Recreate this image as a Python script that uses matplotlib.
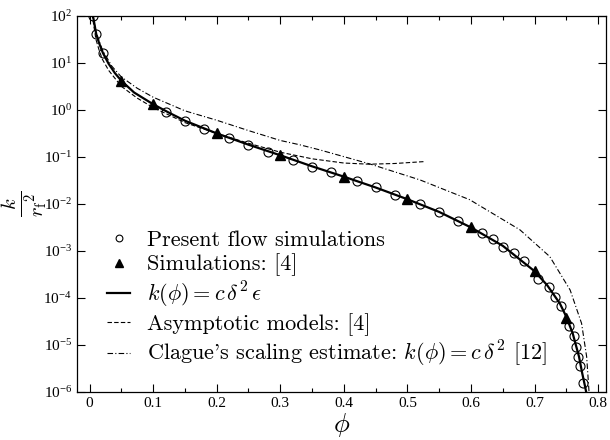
import numpy as np
import matplotlib
matplotlib.use("Agg")
import matplotlib.pyplot as plt
from matplotlib.ticker import MultipleLocator, LogLocator, NullLocator

plt.rcParams['font.family'] = ['Liberation Serif', 'DejaVu Serif']
plt.rcParams['mathtext.fontset'] = 'cm'

# present flow simulations (open circles)
phi_sim = [0.006, 0.0105, 0.021, 0.12, 0.15, 0.18, 0.22, 0.25, 0.28, 0.32, 0.35, 0.38,
           0.42, 0.45, 0.48, 0.52, 0.55, 0.58, 0.618, 0.635, 0.651, 0.667, 0.683,
           0.706, 0.722, 0.732, 0.742, 0.755, 0.762, 0.765, 0.769, 0.772, 0.777]
logk_sim = [2.0, 1.61, 1.21, -0.04, -0.23, -0.40, -0.60, -0.74, -0.89, -1.07, -1.21, -1.33,
            -1.52, -1.65, -1.81, -2.00, -2.18, -2.36, -2.62, -2.75, -2.91, -3.05, -3.21,
            -3.60, -3.77, -3.97, -4.17, -4.60, -4.81, -5.05, -5.25, -5.44, -5.80]

# simulations from [4] (filled triangles)
phi_ref = [0.05, 0.1, 0.2, 0.3, 0.4, 0.5, 0.6, 0.7, 0.75]
logk_ref = [0.62, 0.12, -0.50, -0.965, -1.42, -1.90, -2.50, -3.43, -4.43]

# k(phi) = c delta^2 eps (solid)
phi_fit = [0.004, 0.006, 0.0105, 0.015, 0.021, 0.03, 0.04, 0.05, 0.07, 0.1, 0.125, 0.15,
           0.2, 0.25, 0.3, 0.35, 0.4, 0.45, 0.5, 0.55, 0.6, 0.65, 0.7, 0.72, 0.74,
           0.75, 0.76, 0.77, 0.775, 0.779, 0.782]
logk_fit = [2.05, 1.95, 1.61, 1.42, 1.21, 0.98, 0.78, 0.62, 0.37, 0.12, -0.06, -0.23,
            -0.50, -0.74, -0.965, -1.2, -1.42, -1.65, -1.90, -2.17, -2.50, -2.89, -3.43,
            -3.73, -4.12, -4.40, -4.75, -5.25, -5.6, -5.85, -6.05]

# asymptotic models from [4] (dashed)
phi_asy = [0.004, 0.006, 0.01, 0.015, 0.02, 0.03, 0.05, 0.075, 0.1, 0.15, 0.2, 0.25,
           0.3, 0.35, 0.4, 0.44, 0.48, 0.526]
logk_asy = [2.05, 1.85, 1.50, 1.27, 1.08, 0.84, 0.50, 0.25, 0.05, -0.27, -0.50, -0.71,
            -0.90, -1.04, -1.13, -1.155, -1.14, -1.10]

# Clague's scaling estimate (dash-dot)
phi_cla = [0.004, 0.006, 0.01, 0.02, 0.035, 0.05, 0.075, 0.1, 0.15, 0.2, 0.25, 0.3, 0.33,
           0.362, 0.441, 0.52, 0.598, 0.677, 0.724, 0.756, 0.774, 0.782, 0.786]
logk_cla = [2.05, 1.93, 1.66, 1.28, 0.93, 0.70, 0.46, 0.27, -0.02, -0.22, -0.44, -0.65, -0.74,
            -0.85, -1.15, -1.49, -1.91, -2.55, -3.12, -3.83, -4.54, -5.25, -6.05]

fig = plt.figure(figsize=(6.1, 4.4), dpi=100)
ax = fig.add_axes([0.126, 0.109, 0.867, 0.855])

ax.plot(phi_fit, 10.0 ** np.array(logk_fit), color='black', lw=1.6,
        label=r'$k(\phi) = c\,\delta^2\,\epsilon$', zorder=3)
ax.plot(phi_asy, 10.0 ** np.array(logk_asy), color='black', lw=0.8, ls=(0, (4, 2)),
        label='Asymptotic models: [4]')
ax.plot(phi_cla, 10.0 ** np.array(logk_cla), color='black', lw=0.8, ls=(0, (5, 2, 1, 2)),
        label=r"Clague's scaling estimate: $k(\phi) = c\,\delta^2$ [12]")
ax.plot(phi_sim, 10.0 ** np.array(logk_sim), ls='none', marker='o', ms=6.5, mfc='none',
        mec='black', mew=0.8, label='Present flow simulations', zorder=4)
ax.plot(phi_ref, 10.0 ** np.array(logk_ref), ls='none', marker='^', ms=7, color='black',
        label='Simulations: [4]', zorder=5)

ax.set_yscale('log')
ax.set_xlim(-0.02, 0.812)
ax.set_ylim(1e-6, 1e2)
ax.xaxis.set_minor_locator(MultipleLocator(0.05))
ax.yaxis.set_major_locator(LogLocator(base=10, numticks=20))
ax.yaxis.set_minor_locator(NullLocator())
ax.set_xticks([0, 0.1, 0.2, 0.3, 0.4, 0.5, 0.6, 0.7, 0.8])
ax.set_xticklabels(['0', '0.1', '0.2', '0.3', '0.4', '0.5', '0.6', '0.7', '0.8'])
ax.tick_params(which='both', direction='in', top=True, right=True, labelsize=11, width=0.8)
ax.tick_params(which='major', length=6)
ax.tick_params(which='minor', length=3)
for s in ax.spines.values():
    s.set_linewidth(0.9)

ax.set_xlabel(r'$\phi$', fontsize=19)
ax.xaxis.set_label_coords(0.5, -0.05, transform=ax.transAxes)
ax.xaxis.label.set_va('top')
ax.set_ylabel(r'$\frac{k}{{r_{\mathrm{f}}}^{2}}$', fontsize=21)
ax.yaxis.set_label_coords(-0.052, 0.5, transform=ax.transAxes)

handles, labels = ax.get_legend_handles_labels()
order = [3, 4, 0, 1, 2]
ax.legend([handles[i] for i in order], [labels[i] for i in order], loc='lower left',
          bbox_to_anchor=(0.02, 0.008), frameon=False, handlelength=1.0, handletextpad=0.8,
          labelspacing=0.15, prop={'family': 'cmr10', 'size': 16}, markerscale=0.75)

fig.savefig('out.png', dpi=100)
